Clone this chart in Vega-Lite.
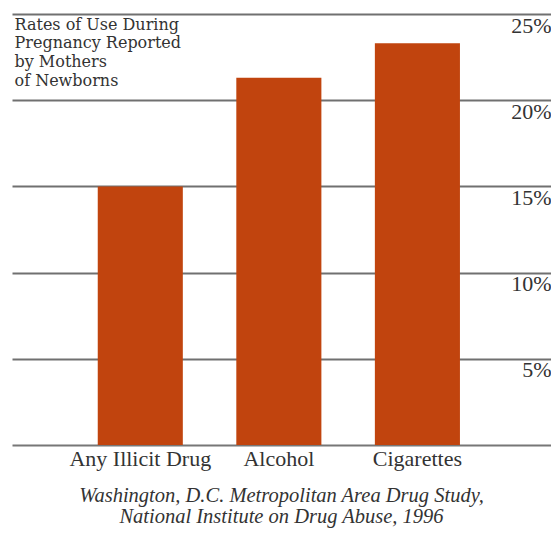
{
  "$schema": "https://vega.github.io/schema/vega-lite/v6.json",
  "width": 539,
  "height": 431,
  "padding": {"left": 12, "top": 14, "right": 0, "bottom": 0},
  "background": "white",
  "data": {
    "values": [
      {"substance": "Any Illicit Drug", "rate": 15.0},
      {"substance": "Alcohol", "rate": 21.3},
      {"substance": "Cigarettes", "rate": 23.3}
    ]
  },
  "title": {
    "text": ["Washington, D.C. Metropolitan Area Drug Study,", "National Institute on Drug Abuse, 1996"],
    "orient": "bottom",
    "anchor": "middle",
    "font": "Liberation Serif",
    "fontSize": 20.5,
    "fontStyle": "italic",
    "fontWeight": "normal",
    "color": "#333333",
    "lineHeight": 21,
    "offset": 17
  },
  "config": {
    "view": {"stroke": null},
    "axis": {"labelFont": "Liberation Serif", "titleFont": "Liberation Serif"}
  },
  "mark": {"type": "bar", "color": "#C1440E"},
  "encoding": {
    "x": {
      "field": "substance",
      "type": "nominal",
      "sort": null,
      "scale": {"paddingInner": 0.386, "paddingOuter": 0.638, "align": 0.485},
      "axis": {
        "title": null,
        "labelAngle": 0,
        "labelFontSize": 22,
        "labelColor": "#333333",
        "labelPadding": 3,
        "ticks": false,
        "domain": true,
        "domainColor": "#777777",
        "domainWidth": 2
      }
    },
    "y": {
      "field": "rate",
      "type": "quantitative",
      "scale": {"domain": [0, 25], "nice": false},
      "axis": {
        "orient": "right",
        "values": [5, 10, 15, 20, 25],
        "labelExpr": "datum.value + '%'",
        "labelAlign": "right",
        "labelBaseline": "top",
        "labelPadding": 0,
        "labelOffset": 1,
        "labelFontSize": 22,
        "labelColor": "#333333",
        "ticks": false,
        "tickSize": 0,
        "domain": false,
        "grid": true,
        "gridColor": "#707070",
        "gridWidth": 2,
        "title": ["Rates of Use During", "Pregnancy Reported", "by Mothers", "of Newborns"],
        "titleAngle": 0,
        "titleAlign": "left",
        "titleBaseline": "top",
        "titleX": -537,
        "titleY": 2,
        "titleFont": "DejaVu Serif",
        "titleFontSize": 16,
        "titleFontWeight": "normal",
        "titleColor": "#333333",
        "titleLineHeight": 18.7
      }
    }
  }
}
